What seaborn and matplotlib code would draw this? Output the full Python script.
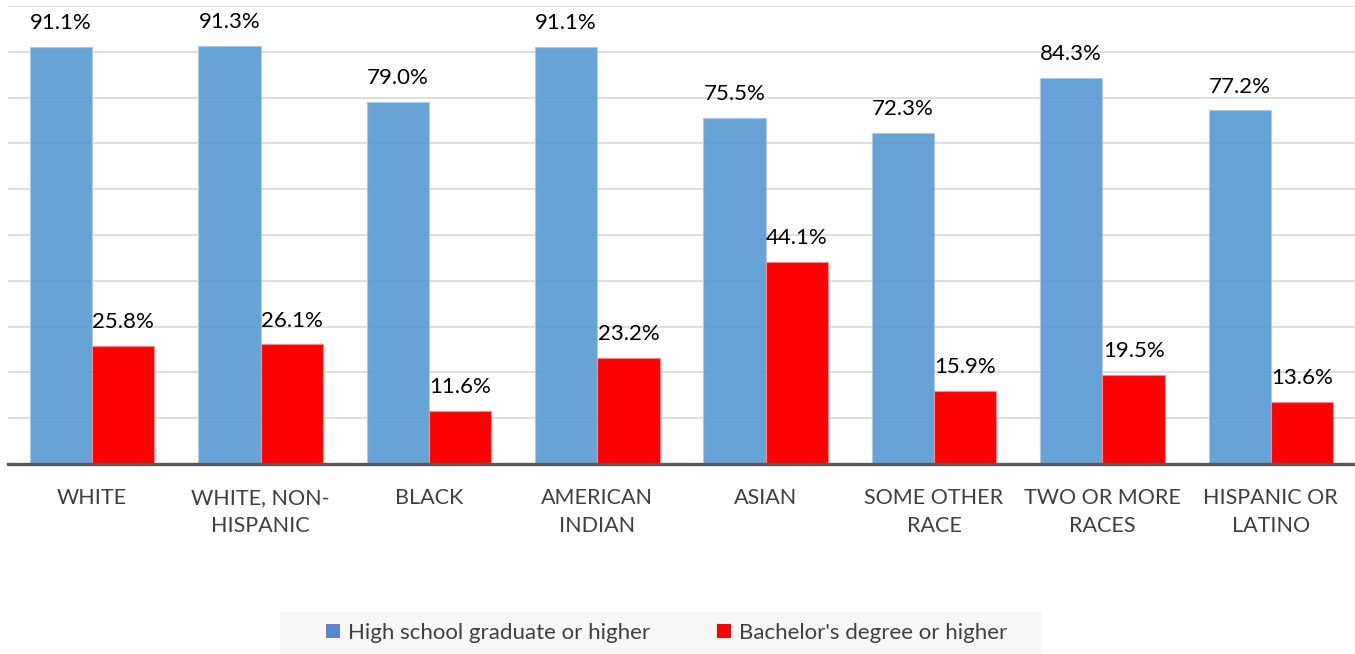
import matplotlib
matplotlib.use("Agg")
import matplotlib.pyplot as plt
from matplotlib.patches import Rectangle, Patch
import seaborn as sns
import pandas as pd

categories = ["WHITE", "WHITE, NON-\nHISPANIC", "BLACK", "AMERICAN\nINDIAN", "ASIAN",
              "SOME OTHER\nRACE", "TWO OR MORE\nRACES", "HISPANIC OR\nLATINO"]
series = ["High school graduate or higher", "Bachelor's degree or higher"]
high_school = [91.1, 91.3, 79.0, 91.1, 75.5, 72.3, 84.3, 77.2]
bachelors = [25.8, 26.1, 11.6, 23.2, 44.1, 15.9, 19.5, 13.6]

bar_colors = ["#5B9BD5", "#FF0000"]
legend_colors = ["#5A86CC", "#FF0000"]
text_gray = "#404040"

df = pd.DataFrame({
    "group": categories * 2,
    "series": [series[0]] * len(categories) + [series[1]] * len(categories),
    "value": high_school + bachelors,
})

sns.set_theme(style="white")
plt.rcParams["font.family"] = ["Lato", "DejaVu Sans"]

fig = plt.figure(figsize=(13.55, 6.54), dpi=100)
ax = fig.add_axes([8 / 1355, 1 - 464 / 654, 1 - 8 / 1355, (464 - 6) / 654])

sns.barplot(data=df, x="group", y="value", hue="series", order=categories,
            hue_order=series, palette=bar_colors, width=0.74, gap=0,
            saturation=1, legend=False, ax=ax, zorder=2)

for patch in ax.containers[0]:
    patch.set_alpha(0.92)
    patch.set_edgecolor("#A9CBEB")
    patch.set_linewidth(0.8)
for patch in ax.containers[1]:
    patch.set_edgecolor("#FF8A8A")
    patch.set_linewidth(0.8)

for container in ax.containers:
    ax.bar_label(container, fmt="%.1f%%", padding=10, fontsize=16, color="black")

ax.set_ylim(0, 100)
ax.set_xlim(-0.5, len(categories) - 0.5)
ax.set_yticks(range(0, 101, 10))
ax.yaxis.grid(True, color="#D9D9D9", linewidth=1.2)
ax.set_axisbelow(True)
ax.set_yticklabels([])
ax.set_xlabel("")
ax.set_ylabel("")
ax.tick_params(axis="x", length=0, pad=17, labelsize=15.5, labelcolor=text_gray)
ax.tick_params(axis="y", length=0)
for lbl in ax.get_xticklabels():
    lbl.set_linespacing(1.55)
for side in ["left", "right", "top"]:
    ax.spines[side].set_visible(False)
ax.spines["bottom"].set_color("#595959")
ax.spines["bottom"].set_linewidth(2.4)
ax.spines["bottom"].set_zorder(5)

# legend panel
fig.patches.append(Rectangle((280 / 1355, 0), (1042 - 280) / 1355, 42 / 654,
                             transform=fig.transFigure, facecolor="#F7F7F7",
                             edgecolor="none", zorder=0))
handles = [Patch(facecolor=c, edgecolor="none") for c in legend_colors]
fig.legend(handles, series, loc="center", bbox_to_anchor=(667 / 1355, 1 - 633 / 654),
           ncol=2, frameon=False, fontsize=16, labelcolor=text_gray,
           handlelength=0.6, handleheight=0.6, handletextpad=0.4, columnspacing=3.0)

fig.savefig("out.png", dpi=100)
